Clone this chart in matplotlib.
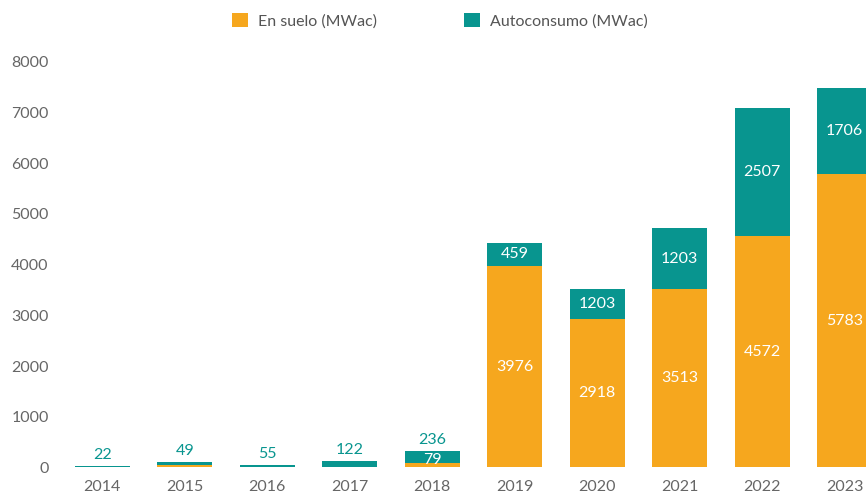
import matplotlib.pyplot as plt
import numpy as np

# Datos
anios = ["2014", "2015", "2016", "2017", "2018", "2019", "2020", "2021", "2022", "2023"]
en_suelo = [0, 50, 0, 0, 79, 3976, 2918, 3513, 4572, 5783]
autoconsumo = [22, 49, 55, 122, 236, 459, 600, 1203, 2507, 1706]
# etiquetas tal como aparecen en la imagen
etiquetas_suelo = ["", "", "", "", "79", "3976", "2918", "3513", "4572", "5783"]
etiquetas_auto = ["22", "49", "55", "122", "236", "459", "1203", "1203", "2507", "1706"]

NARANJA = "#F6A71E"
VERDE = "#08958F"
GRIS = "#666666"

plt.rcParams['font.family'] = ['Lato', 'DejaVu Sans']

fig = plt.figure(figsize=(8.66, 4.95), dpi=100)
ax = fig.add_axes([0.069, 0.0556, 0.931, 0.8198])

x = np.arange(len(anios))
ancho = 0.667
ax.bar(x, en_suelo, ancho, color=NARANJA, label="En suelo (MWac)")
ax.bar(x, autoconsumo, ancho, bottom=en_suelo, color=VERDE, label="Autoconsumo (MWac)")

# etiquetas de valores
for i in range(len(anios)):
    s = en_suelo[i]
    a = autoconsumo[i]
    if etiquetas_suelo[i]:
        if s > 1000:
            ax.text(x[i], s / 2, etiquetas_suelo[i], ha="center", va="center",
                    color="white", fontsize=11.5)
        else:
            ax.annotate(etiquetas_suelo[i], (x[i], 0), xytext=(0, 0.5),
                        textcoords="offset points", ha="center", va="bottom",
                        color="white", fontsize=11.5)
    if a > 400:
        ax.text(x[i], s + a / 2, etiquetas_auto[i], ha="center", va="center",
                color="white", fontsize=11.5)
    else:
        ax.annotate(etiquetas_auto[i], (x[i], s + a), xytext=(0, 3),
                    textcoords="offset points", ha="center", va="bottom",
                    color=VERDE, fontsize=11.5)

ax.set_xlim(-0.515, 9.26)
ax.set_ylim(0, 8000)
ax.set_yticks(range(0, 8001, 1000))
ax.set_xticks(x)
ax.set_xticklabels(anios)
ax.tick_params(axis="both", length=0, colors=GRIS, labelsize=11.5)
ax.tick_params(axis="x", pad=9)
ax.tick_params(axis="y", pad=8)
for lado in ax.spines.values():
    lado.set_visible(False)

# leyenda arriba, centrada en la figura
h, l = ax.get_legend_handles_labels()
fig.legend(h, l, loc="center", bbox_to_anchor=(0.508, 0.958), ncol=2, frameon=False,
           fontsize=11.5, handlelength=1.0, handleheight=1.0, columnspacing=5.5,
           handletextpad=0.6, labelcolor="#555555")

fig.savefig("out.png", dpi=100)
